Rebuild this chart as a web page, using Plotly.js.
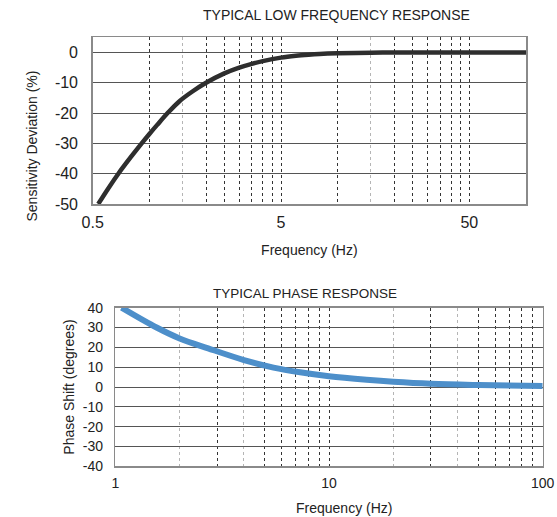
<!DOCTYPE html>
<html><head><meta charset="utf-8">
<script src="https://cdn.plot.ly/plotly-3.0.1.min.js"></script>
<style>html,body{margin:0;padding:0;background:#fff}#chart{width:557px;height:517px}</style>
</head><body><div id="chart"></div>
<script>
// Low frequency response
const lowFreqHz      = [0.535, 0.6, 0.684, 0.8, 0.91, 1.0, 1.1, 1.25, 1.45, 1.7, 2.0, 2.5, 3.0, 3.5, 4.0, 5.0, 6.0, 7.0, 8.0, 10, 15, 20, 30, 50, 100];
const sensitivityDev = [-50, -45.2, -40, -34.4, -30, -26.9, -23.9, -20, -16.0, -12.8, -10, -6.9, -5.0, -3.75, -2.85, -1.7, -1.1, -0.75, -0.52, -0.3, -0.1, -0.02, 0, 0, 0];

// Phase response
const phaseFreqHz   = [1.07, 1.56, 2.0, 2.72, 4.0, 5.5, 7.33, 10, 15, 20, 30, 50, 100];
const phaseShiftDeg = [40, 30, 24.5, 19.5, 13.6, 9.8, 7.4, 5.4, 3.6, 2.6, 1.6, 1.0, 0.5];

// Tick / grid values
const topGridMajor = [0.5, 1, 2, 2.5, 3, 3.5, 4, 4.5, 5, 10, 20, 25, 30, 35, 40, 45, 50];
const topGridMinor = [1.5, 15];
const topLabelVals = [0.5, 5, 50];
const topLabelText = ['0.5', '5', '50'];
const topYTicks    = [0, -10, -20, -30, -40, -50];
const topYText     = ['0', '-10', '-20', '-30', '-40', '-50'];

const botGridMajor = [1, 3, 5, 6, 7, 8, 9, 10, 30, 50, 60, 70, 80, 90, 100];
const botGridMinor = [2, 4, 20, 40];
const botLabelVals = [1, 10, 100];
const botLabelText = ['1', '10', '100'];
const botYTicks    = [40, 30, 20, 10, 0, -10, -20, -30, -40];
const botYText     = ['40', '30', '20', '10', '0', '-10', '-20', '-30', '-40'];

const F = 'Arial, "Liberation Sans", Helvetica, sans-serif';
const W = 557, H = 517;
function tickText(vals, labVals, labText) {
  return vals.map(v => { const i = labVals.indexOf(v); return i >= 0 ? labText[i] : ''; });
}

const traces = [
  {x: lowFreqHz, y: sensitivityDev, xaxis: 'x', yaxis: 'y', mode: 'lines',
   line: {color: '#2e2e2e', width: 4.5, shape: 'spline', smoothing: 1}, hoverinfo: 'skip'},
  {x: phaseFreqHz, y: phaseShiftDeg, xaxis: 'x2', yaxis: 'y2', mode: 'lines',
   line: {color: '#4d8fca', width: 6, shape: 'spline', smoothing: 1}, hoverinfo: 'skip'}
];

const frame = {showline: true, mirror: true, linecolor: '#8a8a8a', linewidth: 1.5, zeroline: false, ticks: '', fixedrange: true};

const layout = {
  width: W, height: H, margin: {l: 0, r: 0, t: 0, b: 0}, showlegend: false,
  paper_bgcolor: '#fff', plot_bgcolor: '#fff',
  font: {family: F, color: '#222'},
  xaxis: Object.assign({}, frame, {
    domain: [92.7 / W, 526 / W], anchor: 'y', type: 'log', range: [Math.log10(0.5), 2],
    tickmode: 'array', tickvals: topGridMajor, ticktext: tickText(topGridMajor, topLabelVals, topLabelText),
    showgrid: true, gridcolor: '#333', griddash: 'dot', gridwidth: 1,
    minor: {tickmode: 'array', tickvals: topGridMinor, showgrid: true, gridcolor: '#b5b5b5', griddash: 'dot', gridwidth: 1, ticks: ''},
    tickfont: {size: 16, color: '#222'}, ticklabelstandoff: 3,
    title: {text: 'Frequency (Hz)', font: {size: 14, color: '#222'}, standoff: 15}
  }),
  yaxis: Object.assign({}, frame, {
    domain: [1 - 204 / H, 1 - 37.3 / H], anchor: 'x', range: [-50, 5],
    tickmode: 'array', tickvals: topYTicks, ticktext: topYText,
    showgrid: true, gridcolor: '#555', gridwidth: 1,
    tickfont: {size: 16, color: '#222'}, ticklabelstandoff: 10
  }),
  xaxis2: Object.assign({}, frame, {
    domain: [115.3 / W, 542.7 / W], anchor: 'y2', type: 'log', range: [0, 2],
    tickmode: 'array', tickvals: botGridMajor, ticktext: tickText(botGridMajor, botLabelVals, botLabelText),
    showgrid: true, gridcolor: '#333', griddash: 'dot', gridwidth: 1,
    minor: {tickmode: 'array', tickvals: botGridMinor, showgrid: true, gridcolor: '#b5b5b5', griddash: 'dot', gridwidth: 1, ticks: ''},
    tickfont: {size: 14, color: '#222'}, ticklabelstandoff: 3
  }),
  yaxis2: Object.assign({}, frame, {
    domain: [1 - 466.3 / H, 1 - 307.7 / H], anchor: 'x2', range: [-40, 40],
    tickmode: 'array', tickvals: botYTicks, ticktext: botYText,
    showgrid: true, gridcolor: '#555', gridwidth: 1,
    tickfont: {size: 14, color: '#222'}, ticklabelstandoff: 8,
    title: {text: 'Phase Shift (degrees)', font: {size: 14, color: '#222'}, standoff: 5}
  }),
  annotations: [
    {text: 'TYPICAL LOW FREQUENCY RESPONSE', xref: 'paper', yref: 'paper', x: 336 / W, y: 1 - 15.5 / H,
     xanchor: 'center', yanchor: 'middle', showarrow: false, font: {size: 14, color: '#222'}},
    {text: 'TYPICAL PHASE RESPONSE', xref: 'paper', yref: 'paper', x: 305 / W, y: 1 - 293 / H,
     xanchor: 'center', yanchor: 'middle', showarrow: false, font: {size: 13.5, color: '#222'}},
    {text: 'Sensitivity Deviation (%)', xref: 'paper', yref: 'paper', x: 31.5 / W, y: 1 - 146 / H,
     xanchor: 'center', yanchor: 'middle', textangle: -90, showarrow: false, font: {size: 14, color: '#222'}},
    {text: 'Frequency (Hz)', xref: 'paper', yref: 'paper', x: 344 / W, y: 1 - 507.5 / H,
     xanchor: 'center', yanchor: 'middle', showarrow: false, font: {size: 14, color: '#222'}}
  ]
};

Plotly.newPlot('chart', traces, layout, {staticPlot: true, displayModeBar: false});
</script>
</body></html>
